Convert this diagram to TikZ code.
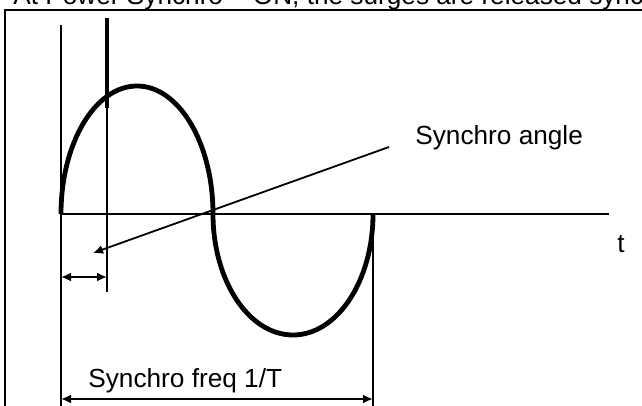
\documentclass[tikz,border=0pt]{standalone}
\usepackage{fontspec}
\setmainfont{Liberation Sans}
\usetikzlibrary{arrows.meta}
\tikzset{
    wave/.style={line width=2.4pt, black},
    guide/.style={line width=1pt, black},
    dimarrow/.style={
        line width=1pt,
        {Latex[length=5pt,width=4.5pt]}-{Latex[length=5pt,width=4.5pt]}
    },
    pointer/.style={line width=0.9pt, -{Latex[length=5pt,width=4.5pt]}},
    lbl/.style={font=\fontsize{13.1}{15.7}\selectfont, inner sep=0pt}
}

\begin{document}
\begin{tikzpicture}[x=0.5pt,y=-0.5pt]
                \clip (0,0) rectangle (642,406);
                \coordinate (O) at (61,214);
                \coordinate (M) at (213,214);
                \coordinate (E) at (373,214);
                \coordinate (Tend) at (609,214);
                \coordinate (Ltop) at (61,25);
                \coordinate (Lbot) at (61,420);
                \coordinate (Stop) at (107,18);
                \coordinate (Smid) at (107,108);
                \coordinate (Sbot) at (107,292);
                \coordinate (Rbot) at (373,420);
                \coordinate (A1) at (61,277);
                \coordinate (A2) at (107,277);
                \coordinate (F1) at (61,399);
                \coordinate (F2) at (373,399);
                \coordinate (P1) at (389,147);
                \coordinate (P2) at (93,253);
                % frame
                \draw [guide] (660,10) -- (5,10) -- (5,420);
                \node [lbl, anchor=base west] (title) at (13,5)
                    {At Power Synchro = ON, the surges are released synchronously};
                % axes
                \draw [guide] (Ltop) -- (Lbot);
                \draw [guide] (O) -- (Tend);
                \node [lbl, anchor=base west] (t) at (617,252) {t};
                % synchro marker
                \draw [wave, line cap=butt] (Stop) -- (Smid);
                \draw [guide] (Smid) -- (Sbot);
                \draw [guide] (E) -- (Rbot);
                % one period
                \draw [wave] (O) arc [start angle=180, end angle=360, x radius=76, y radius=128]
                    arc [start angle=180, end angle=0, x radius=80, y radius=121];
                % dimensions
                \draw [dimarrow] (A1) -- (A2);
                \draw [dimarrow] (F1) -- (F2);
                \node [lbl, anchor=base west] (freq) at (88,387) {Synchro freq 1/T};
                \node [lbl, anchor=base west] (angle) at (415,145) {Synchro angle};
                \draw [pointer] (P1) -- (P2);
            \end{tikzpicture}
\end{document}
